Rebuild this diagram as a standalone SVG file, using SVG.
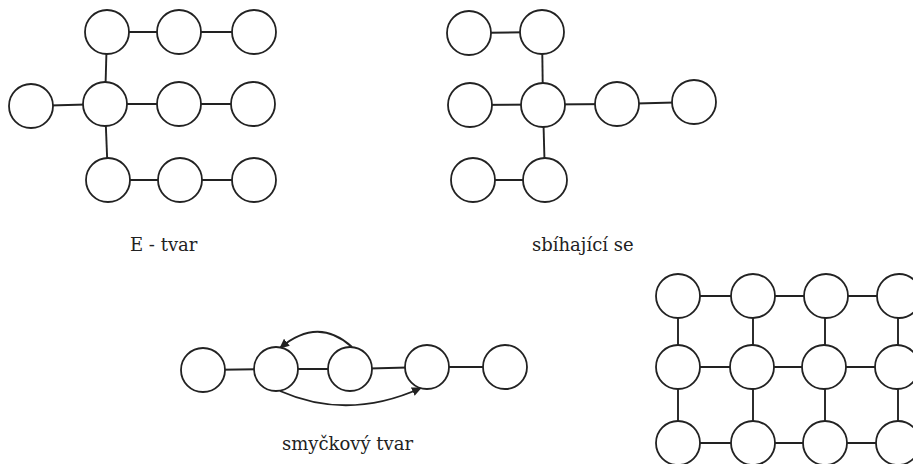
<svg xmlns="http://www.w3.org/2000/svg" width="913" height="464" viewBox="0 0 913 464">
<style>
.n{fill:#fff;stroke:#222;stroke-width:1.8}
.e{stroke:#222;stroke-width:1.9;fill:none}
.t{font-family:"DejaVu Serif","Liberation Serif",serif;font-size:18px;fill:#222}
</style>
<defs>
<marker id="ah" viewBox="0 0 10 10" refX="9" refY="5" markerWidth="10" markerHeight="10" markerUnits="userSpaceOnUse" orient="auto">
<path d="M0,0.5 L10,5 L0,9.5 Z" fill="#222"/>
</marker>
</defs>
<g id="connectors">
<line class="e" x1="107" y1="32" x2="254" y2="32"/>
<line class="e" x1="107" y1="32" x2="105" y2="104"/>
<line class="e" x1="31" y1="106" x2="105" y2="104"/>
<line class="e" x1="105" y1="104" x2="253" y2="104"/>
<line class="e" x1="105" y1="104" x2="108" y2="180"/>
<line class="e" x1="108" y1="180" x2="254" y2="180"/>
<line class="e" x1="469" y1="33" x2="542" y2="32"/>
<line class="e" x1="542" y1="32" x2="543" y2="105"/>
<line class="e" x1="470" y1="105" x2="617" y2="104"/>
<line class="e" x1="617" y1="104" x2="694" y2="102"/>
<line class="e" x1="543" y1="105" x2="545" y2="180"/>
<line class="e" x1="473" y1="180" x2="545" y2="180"/>
<line class="e" x1="203" y1="370" x2="276" y2="369"/>
<line class="e" x1="276" y1="369" x2="350" y2="369"/>
<line class="e" x1="350" y1="369" x2="427" y2="367"/>
<line class="e" x1="427" y1="367" x2="505" y2="367"/>
<path class="e" d="M352,347 Q318,316 280,348" marker-end="url(#ah)"/>
<path class="e" d="M280,391 Q348,421 421,388" marker-end="url(#ah)"/>
<line class="e" x1="678" y1="296" x2="899" y2="296"/>
<line class="e" x1="678" y1="367" x2="897" y2="367"/>
<line class="e" x1="678" y1="443" x2="898" y2="443"/>
<line class="e" x1="678" y1="296" x2="678" y2="443"/>
<line class="e" x1="753" y1="296" x2="753" y2="443"/>
<line class="e" x1="825" y1="296" x2="825" y2="443"/>
<line class="e" x1="898" y1="296" x2="898" y2="443"/>
</g>
<g id="e-tvar">
<circle id="e1" class="n" cx="107" cy="32" r="22"/>
<circle id="e2" class="n" cx="179" cy="32" r="22"/>
<circle id="e3" class="n" cx="254" cy="32" r="22"/>
<circle id="e4" class="n" cx="31" cy="106" r="22"/>
<circle id="e5" class="n" cx="105" cy="104" r="22"/>
<circle id="e6" class="n" cx="179" cy="104" r="22"/>
<circle id="e7" class="n" cx="253" cy="104" r="22"/>
<circle id="e8" class="n" cx="108" cy="180" r="22"/>
<circle id="e9" class="n" cx="180" cy="180" r="22"/>
<circle id="e10" class="n" cx="254" cy="180" r="22"/>
<text class="t" x="130" y="251">E - tvar</text>
</g>
<g id="sbihajici">
<circle id="s1" class="n" cx="469" cy="33" r="22"/>
<circle id="s2" class="n" cx="542" cy="32" r="22"/>
<circle id="s3" class="n" cx="470" cy="105" r="22"/>
<circle id="s4" class="n" cx="543" cy="105" r="22"/>
<circle id="s5" class="n" cx="617" cy="104" r="22"/>
<circle id="s6" class="n" cx="694" cy="102" r="22"/>
<circle id="s7" class="n" cx="473" cy="180" r="22"/>
<circle id="s8" class="n" cx="545" cy="180" r="22"/>
<text class="t" x="532" y="251">sbíhající se</text>
</g>
<g id="smyckovy">
<circle id="l1" class="n" cx="203" cy="370" r="22"/>
<circle id="l2" class="n" cx="276" cy="369" r="22"/>
<circle id="l3" class="n" cx="350" cy="369" r="22"/>
<circle id="l4" class="n" cx="427" cy="367" r="22"/>
<circle id="l5" class="n" cx="505" cy="367" r="22"/>
<text class="t" x="282" y="450">smyčkový tvar</text>
</g>
<g id="grid">
<circle id="g11" class="n" cx="678" cy="296" r="22"/>
<circle id="g12" class="n" cx="753" cy="296" r="22"/>
<circle id="g13" class="n" cx="826" cy="296" r="22"/>
<circle id="g14" class="n" cx="899" cy="296" r="22"/>
<circle id="g21" class="n" cx="678" cy="367" r="22"/>
<circle id="g22" class="n" cx="752" cy="367" r="22"/>
<circle id="g23" class="n" cx="824" cy="367" r="22"/>
<circle id="g24" class="n" cx="897" cy="367" r="22"/>
<circle id="g31" class="n" cx="678" cy="443" r="22"/>
<circle id="g32" class="n" cx="753" cy="443" r="22"/>
<circle id="g33" class="n" cx="825" cy="443" r="22"/>
<circle id="g34" class="n" cx="898" cy="443" r="22"/>
</g>
</svg>
